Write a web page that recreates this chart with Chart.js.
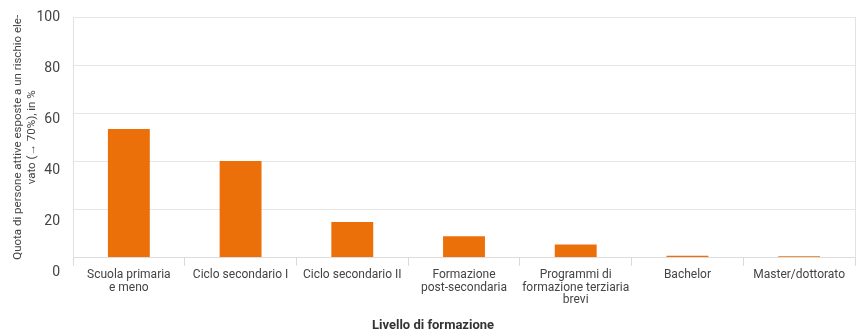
<!DOCTYPE html>
<html lang="it">
<head>
<meta charset="utf-8">
<title>Livello di formazione</title>
<script src="https://cdn.jsdelivr.net/npm/chart.js@4/dist/chart.umd.min.js"></script>
<style>
  html, body { margin: 0; padding: 0; background: #fff; }
  #wrap { width: 859px; height: 334px; }
</style>
</head>
<body>
<div id="wrap"><canvas id="riskChart" width="859" height="334"></canvas></div>
<script>
// Education levels (x axis)
const livelli = [
    ['Scuola primaria', 'e meno'],
    'Ciclo secondario I',
    'Ciclo secondario II',
    ['Formazione', 'post-secondaria'],
    ['Programmi di', 'formazione terziaria', 'brevi'],
    'Bachelor',
    'Master/dottorato'
];

// Share of employed people with high automation risk, in %
const quote = [53.4, 40.2, 14.8, 8.9, 5.4, 0.8, 0.6];

// Y tick values
const yTicks = [0, 20, 40, 60, 80, 100];

const yTitle = ['Quota di persone attive esposte a un rischio ele-', 'vato (→ 70%), in %'];

const arancio = '#EC700A';
const grigioGriglia = '#e6e6e6';
const grigioTesto = '#444';

// the tick labels run on a slightly taller spacing than the grid lines
const labelStretch = 255 / 240;

function setTicks(scale) {
    scale.ticks = yTicks.map(v => ({ value: v }));
}

function initChart() {
    Chart.defaults.font.family = 'Roboto, "Noto Sans", sans-serif';
    Chart.defaults.color = grigioTesto;

    const data = {
        labels: livelli,
        datasets: [{
            data: quote,
            backgroundColor: arancio,
            borderWidth: 0,
            categoryPercentage: 1,
            barPercentage: 0.375
        }]
    };

    const config = {
        type: 'bar',
        data: data,
        options: {
            responsive: false,
            animation: false,
            layout: { padding: { left: 11, right: 4, top: 17, bottom: 0 } },
            plugins: {
                legend: { display: false },
                tooltip: { enabled: false },
                title: {
                    display: true,
                    position: 'bottom',
                    text: 'Livello di formazione',
                    color: '#333',
                    font: { size: 13, weight: 'bold' },
                    padding: { top: 9, bottom: 0 }
                }
            },
            scales: {
                x: {
                    offset: true,
                    grid: {
                        offset: true,
                        drawOnChartArea: false,
                        drawTicks: true,
                        tickLength: 8,
                        color: '#d9d9d9'
                    },
                    border: { display: true, color: '#dcdcdc' },
                    ticks: {
                        autoSkip: false,
                        maxRotation: 0,
                        padding: 3,
                        color: grigioTesto,
                        font: { size: 12, lineHeight: 1.05 }
                    }
                },
                // bar scale: grid lines only
                y: {
                    position: 'left',
                    min: 0,
                    max: 100,
                    weight: 0,
                    ticks: { display: false, stepSize: 20 },
                    grid: { color: grigioGriglia, drawTicks: false },
                    border: { display: true, color: '#e2e2e2' },
                    afterFit: s => { s.width = 0; }
                },
                // tick labels and title
                yLabels: {
                    position: 'left',
                    weight: 1,
                    min: 100 * (1 - 1 / labelStretch),
                    max: 100,
                    afterBuildTicks: setTicks,
                    grid: { display: false },
                    border: { display: false },
                    ticks: {
                        autoSkip: false,
                        padding: 5,
                        color: grigioTesto,
                        font: { size: 14 }
                    },
                    title: {
                        display: true,
                        text: yTitle,
                        color: grigioTesto,
                        padding: 0,
                        font: { size: 11.5, lineHeight: 1.2 }
                    },
                    afterFit: s => { s.width = 62; }
                },
                // closing line on the right side
                yRight: {
                    position: 'right',
                    min: 0,
                    max: 100,
                    ticks: { display: false },
                    grid: { display: false },
                    border: { display: true, color: '#e2e2e2' },
                    afterFit: s => { s.width = 0; }
                }
            }
        }
    };

    new Chart(document.getElementById('riskChart'), config);
}

document.addEventListener('DOMContentLoaded', function() {
    initChart();
});
</script>
</body>
</html>
